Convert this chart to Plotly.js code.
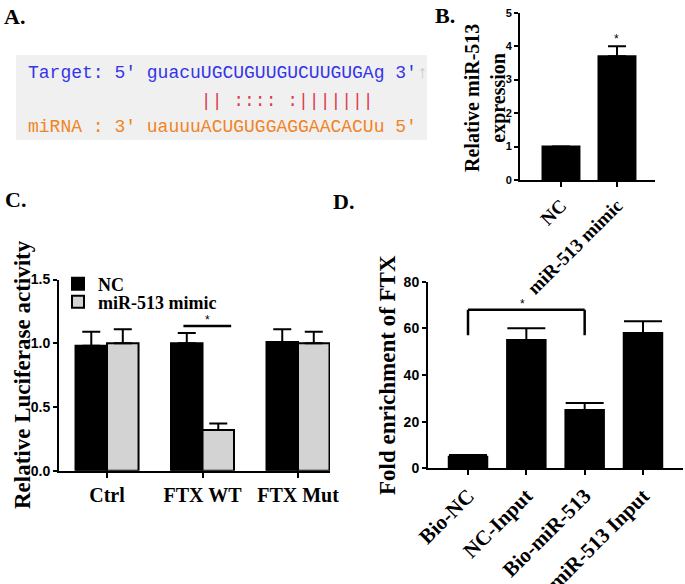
<!DOCTYPE html>
<html>
<head>
<meta charset="utf-8">
<script src="https://cdn.plot.ly/plotly-3.0.1.min.js"></script>
<style>html,body{margin:0;padding:0;background:#fff;}#chart{width:685px;height:584px;}</style>
</head>
<body>
<div id="chart"></div>
<script>
// ---- Panel A: alignment text ----
const targetLine = "Target: 5' guacuUGCUGUUGUCUUGUGAg 3'";
const pairLine   = "                || :::: :|||||||";
const mirnaLine  = "miRNA : 3' uauuuACUGUGGAGGAACACUu 5'";

// ---- Panel B ----
const bCats = ['NC', 'miR-513 mimic'];
const bVals = [1.0, 3.7];
const bErr  = [0, 0.3];

// ---- Panel C ----
const cCats = ['Ctrl', 'FTX WT', 'FTX Mut'];
const cNC = [0.98, 1.0, 1.01];
const cNCErr = [0.11, 0.08, 0.10];
const cMimic = [1.0, 0.32, 1.0];
const cMimicErr = [0.11, 0.05, 0.09];

// ---- Panel D ----
const dCats = ['Bio-NC', 'NC-Input', 'Bio-miR-513', 'miR-513 Input'];
const dVals = [5, 55, 25, 58];
const dErr  = [0.7, 5, 3, 5];

const W = 685, H = 584;
const px = v => v / W;
const py = v => 1 - v / H;

const SERIF = 'Liberation Serif';
const SANS = 'Liberation Sans';

function errY(arr, w) {
  return {type: 'data', array: arr, arrayminus: arr.map(() => 0), symmetric: false,
          color: '#000', thickness: 2, width: w, visible: true};
}

const traces = [
  {type: 'bar', x: bCats, y: bVals, xaxis: 'x', yaxis: 'y', showlegend: false,
   marker: {color: '#000', line: {color: '#000', width: 2}}, error_y: errY(bErr, 9)},
  {type: 'bar', name: 'NC', x: cCats, y: cNC, xaxis: 'x2', yaxis: 'y2', legend: 'legend',
   marker: {color: '#000', line: {color: '#000', width: 2}}, error_y: errY(cNCErr, 9)},
  {type: 'bar', name: 'miR-513 mimic', x: cCats, y: cMimic, xaxis: 'x2', yaxis: 'y2', legend: 'legend2',
   marker: {color: '#d3d3d3', line: {color: '#000', width: 2}}, error_y: errY(cMimicErr, 9)},
  {type: 'bar', x: dCats, y: dVals, xaxis: 'x3', yaxis: 'y3', showlegend: false,
   marker: {color: '#000', line: {color: '#000', width: 2}}, error_y: errY(dErr, 19)}
];

function xAx(domain, range, anchor, font, angle) {
  return {domain: domain, range: range, anchor: anchor, type: 'category',
          showline: true, linecolor: '#000', linewidth: 2, ticks: 'outside', ticklen: 5,
          tickwidth: 2, tickcolor: '#000', showgrid: false, zeroline: false,
          tickangle: angle, tickfont: font, fixedrange: true};
}
function yAx(domain, range, anchor, dtick, font, fmt) {
  return {domain: domain, range: range, anchor: anchor, dtick: dtick, tickformat: fmt,
          showline: true, linecolor: '#000', linewidth: 2, ticks: 'outside', ticklen: 4,
          tickwidth: 2, tickcolor: '#000', showgrid: false, zeroline: false,
          tickfont: font, fixedrange: true};
}

const serifTick = s => ({family: SERIF, size: s, weight: 'bold', color: '#000'});
const sansTick = s => ({family: SANS, size: s, weight: 'bold', color: '#000'});

const monoFont = {family: 'Liberation Mono', size: 18};
const legFont = {family: SERIF, size: 18, weight: 'bold', color: '#000'};

const layout = {
  width: W, height: H,
  margin: {l: 0, r: 0, t: 0, b: 0},
  paper_bgcolor: '#fff', plot_bgcolor: 'rgba(0,0,0,0)',
  barmode: 'group', bargap: 0.34, bargroupgap: 0,
  showlegend: true,
  legend: {x: px(58), y: py(284), xanchor: 'left', yanchor: 'middle', font: legFont,
           bgcolor: 'rgba(0,0,0,0)', itemwidth: 30},
  legend2: {x: px(58), y: py(302), xanchor: 'left', yanchor: 'middle', font: legFont,
           bgcolor: 'rgba(0,0,0,0)', itemwidth: 30},
  xaxis: xAx([px(520), px(655)], [-0.732, 1.679], 'y', serifTick(19), -45),
  yaxis: yAx([py(180), py(12.7)], [0, 5], 'x', 1, sansTick(11)),
  xaxis2: xAx([px(59), px(330)], [-0.503, 2.335], 'y2', serifTick(20), 0),
  yaxis2: yAx([py(470.7), py(279.5)], [0, 1.5], 'x2', 0.5, sansTick(14), '.1f'),
  xaxis3: xAx([px(428), px(683)], [-0.686, 3.686], 'y3', serifTick(21), -45),
  yaxis3: yAx([py(468.3), py(281.7)], [0, 80], 'x3', 20, sansTick(14)),
  shapes: [
    {type: 'rect', xref: 'paper', yref: 'paper', x0: px(16), x1: px(427), y0: py(140), y1: py(55),
     fillcolor: '#f0f0f0', line: {width: 0}, layer: 'below'},
    // C significance line
    {type: 'line', xref: 'x2', yref: 'y2', x0: 0.8, x1: 1.3, y0: 1.135, y1: 1.135,
     line: {color: '#000', width: 2.5}},
    // D bracket
    {type: 'line', xref: 'x3', yref: 'y3', x0: 0, x1: 0, y0: 57, y1: 68, line: {color: '#000', width: 2.5}},
    {type: 'line', xref: 'x3', yref: 'y3', x0: 0, x1: 2, y0: 68, y1: 68, line: {color: '#000', width: 2.5}},
    {type: 'line', xref: 'x3', yref: 'y3', x0: 2, x1: 2, y0: 68, y1: 57, line: {color: '#000', width: 2.5}}
  ],
  annotations: [
    // panel letters
    {text: 'A.', xref: 'paper', yref: 'paper', x: px(2), y: py(2), xanchor: 'left', yanchor: 'top', showarrow: false,
     font: {family: SERIF, size: 22, weight: 'bold', color: '#000'}},
    {text: 'B.', xref: 'paper', yref: 'paper', x: px(433), y: py(1), xanchor: 'left', yanchor: 'top', showarrow: false,
     font: {family: SERIF, size: 22, weight: 'bold', color: '#000'}},
    {text: 'C.', xref: 'paper', yref: 'paper', x: px(3), y: py(185), xanchor: 'left', yanchor: 'top', showarrow: false,
     font: {family: SERIF, size: 22, weight: 'bold', color: '#000'}},
    {text: 'D.', xref: 'paper', yref: 'paper', x: px(331), y: py(187), xanchor: 'left', yanchor: 'top', showarrow: false,
     font: {family: SERIF, size: 22, weight: 'bold', color: '#000'}},
    // panel A text
    {text: '<span style="color:#3535e8">' + targetLine + '</span><span style="color:#c8c8c8">↑</span>',
     xref: 'paper', yref: 'paper', x: px(26), y: py(73), xanchor: 'left', yanchor: 'middle', showarrow: false,
     font: monoFont},
    {text: pairLine, xref: 'paper', yref: 'paper', x: px(26), y: py(101), xanchor: 'left', yanchor: 'middle',
     showarrow: false, font: {family: 'Liberation Mono', size: 18, color: '#e03a4a'}},
    {text: mirnaLine, xref: 'paper', yref: 'paper', x: px(26), y: py(127), xanchor: 'left', yanchor: 'middle',
     showarrow: false, font: {family: 'Liberation Mono', size: 18, color: '#f08424'}},
    // axis titles
    {text: 'Relative miR-513<br>expression', xref: 'paper', yref: 'paper', x: px(485), y: py(98),
     xanchor: 'center', yanchor: 'middle', textangle: -90, showarrow: false,
     font: {family: SERIF, size: 20, weight: 'bold', color: '#000'}},
    {text: 'Relative Luciferase activity', xref: 'paper', yref: 'paper', x: px(22), y: py(375),
     xanchor: 'center', yanchor: 'middle', textangle: -90, showarrow: false,
     font: {family: SERIF, size: 23, weight: 'bold', color: '#000'}},
    {text: 'Fold enrichment of FTX', xref: 'paper', yref: 'paper', x: px(387), y: py(375),
     xanchor: 'center', yanchor: 'middle', textangle: -90, showarrow: false,
     font: {family: SERIF, size: 23, weight: 'bold', color: '#000'}},
    // significance asterisks
    {text: '*', xref: 'x', yref: 'y', x: 1, y: 3.95, yanchor: 'bottom', showarrow: false,
     font: {family: SANS, size: 12, color: '#000'}},
    {text: '*', xref: 'x2', yref: 'y2', x: 1.05, y: 1.11, yanchor: 'bottom', showarrow: false,
     font: {family: SANS, size: 12, color: '#000'}},
    {text: '*', xref: 'x3', yref: 'y3', x: 0.93, y: 66.5, yanchor: 'bottom', showarrow: false,
     font: {family: SANS, size: 12, color: '#000'}}
  ]
};

Plotly.newPlot('chart', traces, layout, {staticPlot: true, displayModeBar: false});
</script>
</body>
</html>
